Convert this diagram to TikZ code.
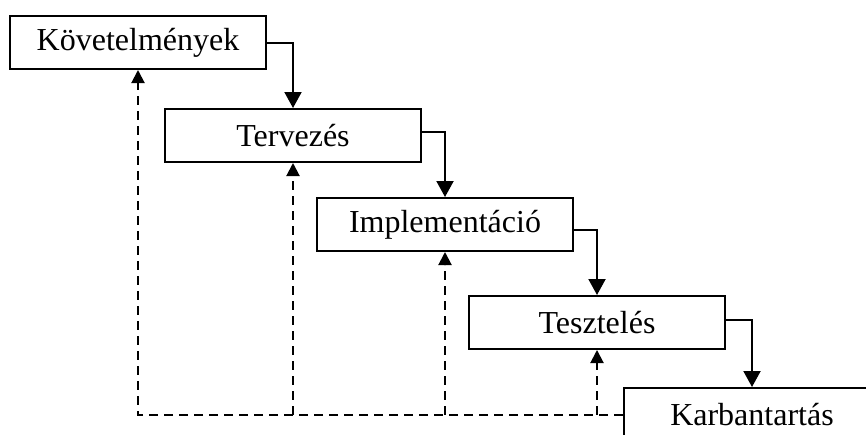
\documentclass[tikz,border=0pt]{standalone}
\usepackage{fontspec}
\setmainfont{Liberation Serif}
\usetikzlibrary{arrows.meta}
\begin{document}
\begin{tikzpicture}[x=1pt,y=-1pt,
  phase/.style={draw,line width=2pt,minimum width=256pt,minimum height=53pt,
    inner sep=0pt,font=\fontsize{32}{38}\selectfont},
  flow/.style={line width=2pt,-{Triangle[length=16pt,width=17pt]}},
  back/.style={line width=2pt,dash pattern=on 9pt off 6pt,-{Triangle[length=13pt,width=13pt]}}]
\useasboundingbox (0,0) rectangle (866,434);
\clip (0,0) rectangle (866,434);
\node[phase] (b1) at (138,42.5) {Követelmények};
\node[phase] (b2) at (293,135.5) {Tervezés};
\node[phase] (b3) at (445,224.5) {Implementáció};
\node[phase] (b4) at (597,322.5) {Tesztelés};
\node[phase,anchor=north west] (b5) at (623,387) {Karbantartás};
% forward flow between phases
\draw[flow] (b1.east) -| (b2.north);
\draw[flow] ([yshift=3.5pt]b2.east) -| (b3.north);
\draw[flow] ([yshift=-5.5pt]b3.east) -| (b4.north);
\draw[flow] ([yshift=2.5pt]b4.east) -| (b5.north);
% feedback paths from maintenance
\draw[back] (b5.west) -| (b1.south);
\draw[back] (b2.south |- b5.west) -- (b2.south);
\draw[back] (b3.south |- b5.west) -- (b3.south);
\draw[back] (b4.south |- b5.west) -- (b4.south);
\end{tikzpicture}
\end{document}
